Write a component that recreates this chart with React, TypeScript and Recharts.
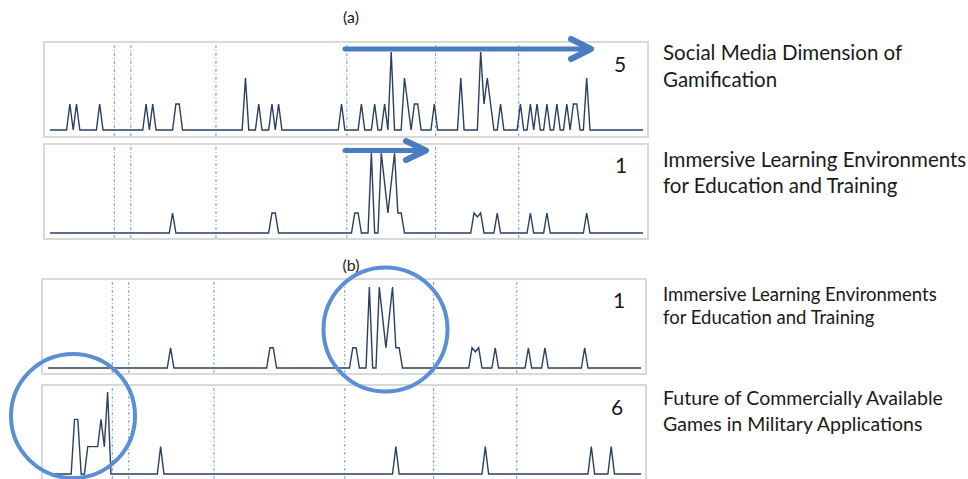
import React from 'react';
import { LineChart, Line, XAxis, YAxis, ReferenceLine } from 'recharts';

// number of time steps on every track
const STEPS = 180;

// [step, mentions]; steps that are not listed are zero
const gamificationPeaks: [number, number][] = [
  [6, 1], [8, 1], [15, 1], [29, 1], [31, 1], [38, 1], [39, 1],
  [59, 2], [63, 1], [67, 1], [69, 1], [88, 1], [94, 1], [98, 1],
  [101, 1], [103, 3], [107, 2], [108, 1], [110, 1], [111, 1], [116, 1],
  [124, 2], [130, 3], [131, 1], [132, 2], [133, 1], [136, 1],
  [142, 1], [145, 1], [147, 1], [150, 1], [153, 1], [156, 1],
  [158, 1], [159, 1], [162, 2],
];

const immersivePeaks: [number, number][] = [
  [37, 1], [67, 1], [68, 1], [92, 1], [93, 1],
  [97, 4], [100, 4], [101, 2.5], [102, 1], [103, 2.5], [104, 4], [105, 1], [106, 1],
  [128, 1], [129, 0.8], [130, 1], [135, 1], [145, 1], [150, 1], [162, 1],
];

const militaryGamesPeaks: [number, number][] = [
  [8, 2], [9, 2], [12, 1], [13, 1], [14, 1], [15, 1], [16, 2], [17, 1], [18, 3],
  [34, 1], [105, 1], [132, 1], [164, 1], [170, 1],
];

// period boundaries, in steps
const periodBreaks = [19.4, 24.4, 50.1, 89.6, 116.4, 141.5];

const toSeries = (peaks: [number, number][]) => {
  const lookup = new Map(peaks);
  return Array.from({ length: STEPS }, (_, step) => ({ step, v: lookup.get(step) ?? 0 }));
};

const FONT = 'Lato, "Liberation Sans", sans-serif';
const TRACK_W = 602;
const TRACK_H = 93;

type TrackProps = {
  peaks: [number, number][];
  left: number;
  top: number;
  padTop: number;
  padBottom: number;
};

const Track = ({ peaks, left, top, padTop, padBottom }: TrackProps) => {
  const data = toSeries(peaks);
  const max = Math.max(...data.map((d) => d.v));
  return (
    <div
      style={{
        position: 'absolute',
        left,
        top,
        width: TRACK_W,
        height: TRACK_H,
        border: '2px solid #d9d9d9',
        background: '#fff',
      }}
    >
      <LineChart width={TRACK_W} height={TRACK_H} data={data} margin={{ top: 0, right: 0, bottom: 0, left: 0 }}>
        <XAxis type="number" dataKey="step" domain={[0, STEPS - 1]} hide padding={{ left: 5, right: 4 }} />
        <YAxis type="number" hide domain={[0, max]} padding={{ top: padTop, bottom: padBottom }} />
        {periodBreaks.map((b) => (
          <ReferenceLine key={b} x={b} stroke="#7398cb" strokeWidth={1} strokeDasharray="3 2 1 2" />
        ))}
        <Line
          type="linear"
          dataKey="v"
          stroke="#2b3f60"
          strokeWidth={1.4}
          dot={false}
          isAnimationActive={false}
        />
      </LineChart>
    </div>
  );
};

const txt = { fontFamily: FONT, fill: '#1a1a1a' };

export default function App() {
  return (
    <div style={{ position: 'absolute', left: 0, top: 0, width: 968, height: 479, overflow: 'hidden', background: '#fff' }}>
      <Track peaks={gamificationPeaks} left={43} top={41} padTop={9} padBottom={6} />
      <Track peaks={immersivePeaks} left={43} top={143} padTop={8} padBottom={5} />
      <Track peaks={immersivePeaks} left={41} top={278} padTop={7} padBottom={5} />
      <Track peaks={militaryGamesPeaks} left={41} top={384} padTop={6} padBottom={5} />

      <svg width={968} height={479} style={{ position: 'absolute', left: 0, top: 0, pointerEvents: 'none' }}>
        <text x={351} y={23} textAnchor="middle" fontSize={16} {...txt}>(a)</text>
        <text x={351} y={271} textAnchor="middle" fontSize={16} {...txt}>(b)</text>

        <text x={620} y={72} textAnchor="middle" fontSize={21} {...txt}>5</text>
        <text x={621} y={173} textAnchor="middle" fontSize={21} {...txt}>1</text>
        <text x={619} y={308} textAnchor="middle" fontSize={21} {...txt}>1</text>
        <text x={617} y={415} textAnchor="middle" fontSize={21} {...txt}>6</text>

        <text x={663} y={60} fontSize={20.5} {...txt}>Social Media Dimension of</text>
        <text x={663} y={87} fontSize={20.5} {...txt}>Gamification</text>
        <text x={663} y={167} fontSize={20.5} {...txt}>Immersive Learning Environments</text>
        <text x={663} y={193} fontSize={20.5} {...txt}>for Education and Training</text>
        <text x={663} y={301} fontSize={18.5} {...txt}>Immersive Learning Environments</text>
        <text x={663} y={324} fontSize={18.5} {...txt}>for Education and Training</text>
        <text x={663} y={405} fontSize={19.5} {...txt}>Future of Commercially Available</text>
        <text x={663} y={431} fontSize={19.5} {...txt}>Games in Military Applications</text>

        {/* trend arrows */}
        <g stroke="#4a7dbf" fill="none" strokeLinecap="round" strokeLinejoin="round">
          <line x1={345} y1={49} x2={588} y2={49} strokeWidth={5} />
          <polyline points="571,39 591,49 571,59" strokeWidth={6} />
          <line x1={345} y1={150.5} x2={423} y2={150.5} strokeWidth={5} />
          <polyline points="406,141 426,150.5 406,160" strokeWidth={6} />
        </g>

        {/* highlighted bursts */}
        <g stroke="#5a8fd5" fill="none" strokeWidth={4}>
          <circle cx={385.5} cy={329.5} r={62} />
          <circle cx={73} cy={416} r={62} />
        </g>
      </svg>
    </div>
  );
}
